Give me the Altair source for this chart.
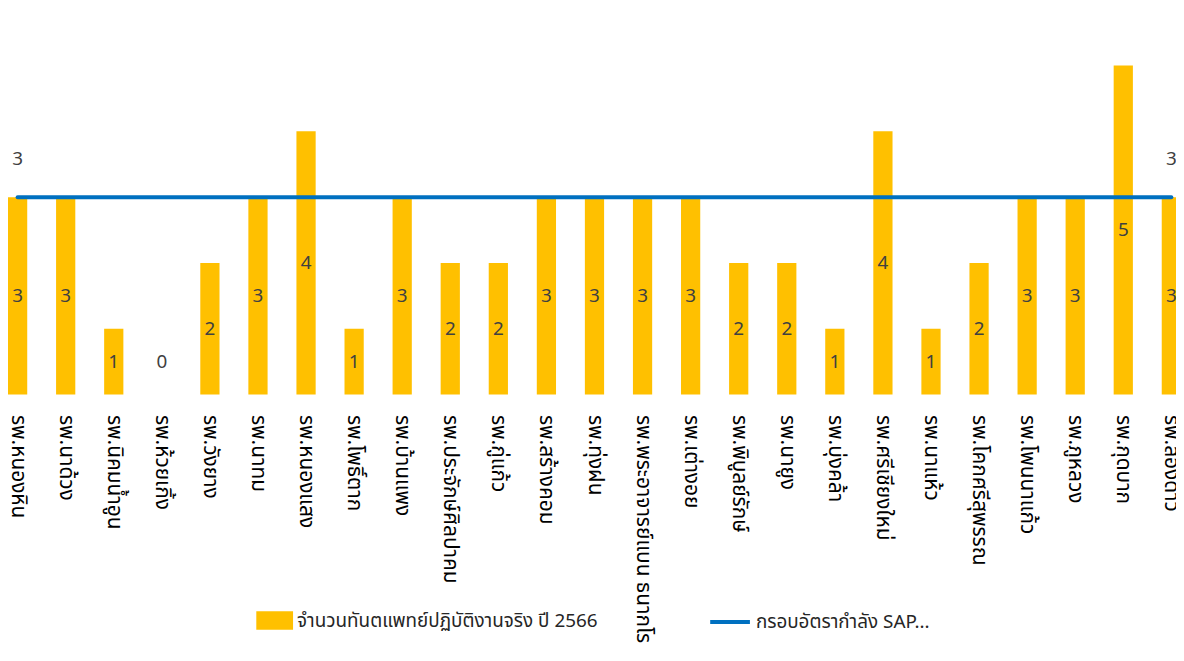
import altair as alt
import pandas as pd

hospitals = [
    "รพ.หนองหิน", "รพ.นาด้วง", "รพ.นิคมน้ำอูน", "รพ.ห้วยเกิ้ง", "รพ.วังยาง",
    "รพ.นาทม", "รพ.หนองแสง", "รพ.โพธิ์ตาก", "รพ.บ้านแพง", "รพ.ประจักษ์ศิลปาคม",
    "รพ.กู่แก้ว", "รพ.สร้างคอม", "รพ.ทุ่งฝน", "รพ.พระอาจารย์แบน ธนากโร", "รพ.เต่างอย",
    "รพ.พิบูลย์รักษ์", "รพ.นายูง", "รพ.บุ่งคล้า", "รพ.ศรีเชียงใหม่", "รพ.นาแห้ว",
    "รพ.โคกศรีสุพรรณ", "รพ.โพนนาแก้ว", "รพ.ภูหลวง", "รพ.กุดบาก", "รพ.ส่องดาว",
]
actual_dentists = [3, 3, 1, 0, 2, 3, 4, 1, 3, 2, 2, 3, 3, 3, 3, 2, 2, 1, 4, 1, 2, 3, 3, 5, 3]
sap_frame = [3, 3, 3, 3, 3, 3, 3, 3, 3, 3, 3, 3, 3, 3, 3, 3, 3, 3, 3, 3, 3, 3, 3, 3, 3]

series_bar = "จำนวนทันตแพทย์ปฏิบัติงานจริง  ปี 2566"
series_line = "กรอบอัตรากำลัง SAP..."

FONT = "Tahoma, 'Noto Sans Thai', 'Noto Sans', sans-serif"

n = len(hospitals)
df = pd.DataFrame({
    "hospital": hospitals,
    "actual": actual_dentists,
    "sap": sap_frame,
})
df["bar_series"] = series_bar
df["line_series"] = series_line
df["line_label"] = [str(sap_frame[i]) if i in (0, n - 1) else "" for i in range(n)]
df["label_pos"] = [max(v / 2, 0.5) for v in actual_dentists]

x = alt.X(
    "hospital:N",
    sort=hospitals,
    scale=alt.Scale(paddingInner=0.6, paddingOuter=0),
    axis=alt.Axis(
        title=None, labelAngle=90, labelFontSize=21, labelPadding=20,
        labelLimit=600, domain=False, ticks=False, labelColor="#000000",
        labelFont=FONT,
    ),
)
yscale = alt.Scale(domain=[0, 5.75], nice=False, zero=True)

base = alt.Chart(df)

bars = base.mark_bar().encode(
    x=x,
    y=alt.Y("actual:Q", scale=yscale, axis=None),
    fill=alt.Fill(
        "bar_series:N",
        scale=alt.Scale(range=["#FFC000"]),
        legend=alt.Legend(
            title=None, orient="none", legendX=250, legendY=590,
            symbolType="M-1,-0.5H1V0.5H-1Z", symbolSize=1369,
            symbolStrokeWidth=0, symbolOpacity=1, labelFontSize=19,
            labelFont=FONT, labelColor="#262626", labelLimit=500, padding=0,
        ),
    ),
)

line = base.mark_line(strokeWidth=4, strokeCap="round").encode(
    x=x,
    y=alt.Y("sap:Q", scale=yscale, axis=None),
    stroke=alt.Stroke(
        "line_series:N",
        scale=alt.Scale(range=["#0070C0"]),
        legend=alt.Legend(
            title=None, orient="none", legendX=705, legendY=588,
            symbolType="stroke", symbolSize=1600, symbolStrokeWidth=4,
            labelFontSize=19, labelFont=FONT, labelColor="#262626",
            labelLimit=500, padding=0,
        ),
    ),
)

bar_labels = base.mark_text(fontSize=19, font=FONT, color="#404040", baseline="middle").encode(
    x=x,
    y=alt.Y("label_pos:Q", scale=yscale, axis=None),
    text=alt.Text("actual:Q"),
)

line_labels = base.mark_text(fontSize=19, font=FONT, color="#404040", baseline="middle", dy=-38).encode(
    x=x,
    y=alt.Y("sap:Q", scale=yscale, axis=None),
    text=alt.Text("line_label:N"),
)

chart = alt.layer(bars, line, bar_labels, line_labels).properties(
    width=1181,
    height=381,
    autosize=alt.AutoSizeParams(type="none"),
    padding={"left": 0, "top": 6, "right": -5, "bottom": 266},
    background="white",
).configure_view(stroke=None)

chart.save("out.html", embed_options={"renderer": "svg", "actions": False})
